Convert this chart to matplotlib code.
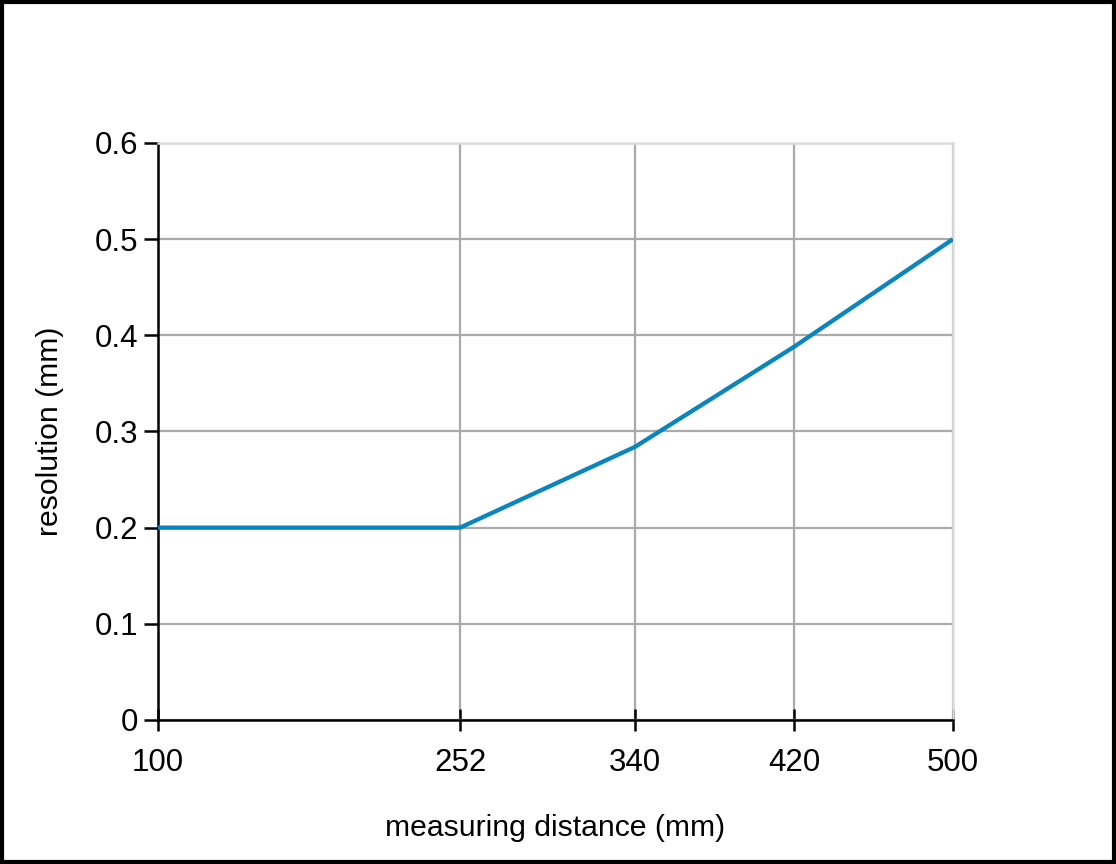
import matplotlib
matplotlib.use('Agg')
import matplotlib.pyplot as plt
from matplotlib.patches import Rectangle

# measuring distance (mm) vs resolution (mm)
distance = [100, 252, 340, 420, 500]
resolution = [0.2, 0.2, 0.284, 0.388, 0.5]
x_ticks = [100, 252, 340, 420, 500]
y_ticks = [0, 0.1, 0.2, 0.3, 0.4, 0.5, 0.6]
y_labels = ['0', '0.1', '0.2', '0.3', '0.4', '0.5', '0.6']

plt.rcParams['font.family'] = ['Liberation Sans', 'DejaVu Sans']

fig = plt.figure(figsize=(11.16, 8.64), dpi=100)
ax = fig.add_axes([0.1416, 0.1667, 0.7123, 0.6678])

ax.plot(distance, resolution, color='#0a85bd', linewidth=3.1, solid_capstyle='butt', zorder=3)

ax.set_xlim(100, 500)
ax.set_ylim(0, 0.6)
ax.set_xticks(x_ticks)
ax.set_xticklabels([str(t) for t in x_ticks])
ax.set_yticks(y_ticks)
ax.set_yticklabels(y_labels)
ax.grid(True, color='#aaaaaa', linewidth=1.6)
ax.set_axisbelow(True)

for side in ['top', 'right']:
    ax.spines[side].set_color('#dddddd')
    ax.spines[side].set_linewidth(1.8)
for side in ['left', 'bottom']:
    ax.spines[side].set_color('black')
    ax.spines[side].set_linewidth(1.8)

ax.tick_params(axis='x', direction='inout', length=16, width=1.8, labelsize=22.5, pad=12)
ax.tick_params(axis='y', direction='out', length=10, width=1.8, labelsize=22.5, pad=4)

ax.set_xlabel('measuring distance (mm)', fontsize=21.7, labelpad=26)
ax.set_ylabel('resolution (mm)', fontsize=21.7, labelpad=22)

# black frame around the whole figure
fig.patches.append(Rectangle((0.0015, 0.002), 0.997, 0.996, transform=fig.transFigure,
                             fill=False, edgecolor='black', linewidth=3))

fig.savefig('out.png', dpi=100)
